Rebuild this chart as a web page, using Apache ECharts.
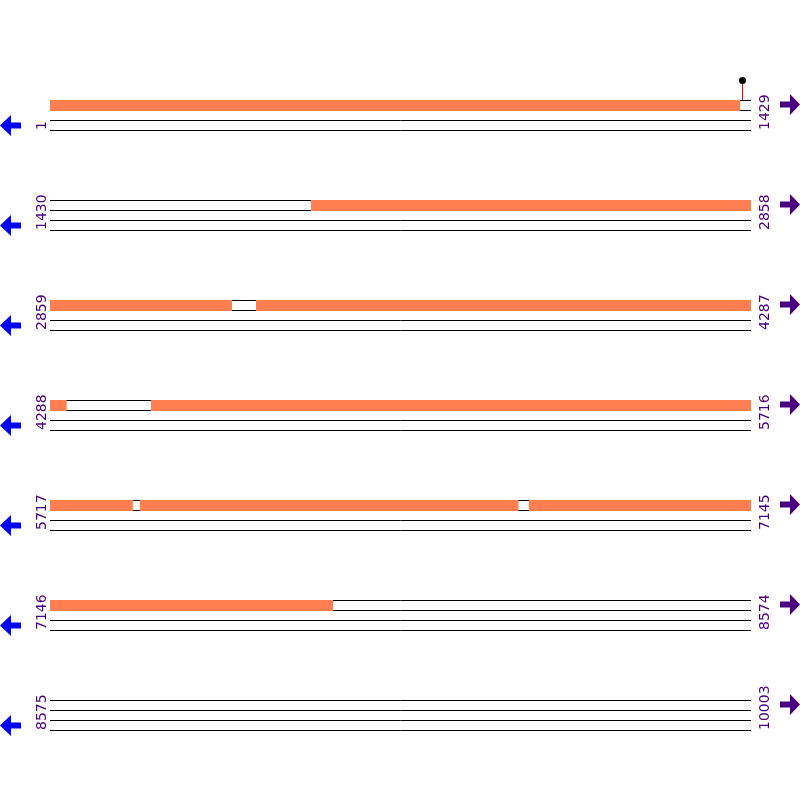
<!DOCTYPE html>
<html>
<head>
<meta charset="utf-8">
<script src="https://cdn.jsdelivr.net/npm/echarts@6/dist/echarts.min.js"></script>
<style>html,body{margin:0;padding:0;background:#fff}#c{width:800px;height:800px}</style>
</head>
<body>
<div id="c"></div>
<script>
// ---- data ----
var rowStarts = [1, 1430, 2859, 4288, 5717, 7146, 8575];
var rowEnds   = [1429, 2858, 4287, 5716, 7145, 8574, 10003];
var BASES_PER_ROW = 1429;
var featureStarts = [1, 1962, 3279, 4494, 5900, 6693];
var featureEnds   = [1407, 3229, 4321, 5885, 6671, 7722];
var markerPositions = [1411];

// ---- derived ----
var rowData = rowStarts.map(function (s, k) { return [0, k, s, rowEnds[k]]; });
var featData = [];
featureStarts.forEach(function (fs, i) {
  var fe = featureEnds[i];
  rowStarts.forEach(function (rs, k) {
    var a = Math.max(fs, rs), b = Math.min(fe, rowEnds[k]);
    if (a <= b) featData.push([a - rs, b - rs + 1, k]);
  });
});
var markData = [];
markerPositions.forEach(function (p) {
  rowStarts.forEach(function (rs, k) {
    if (p >= rs && p <= rowEnds[k]) markData.push([p - rs + 0.5, k]);
  });
});

var FONT = '14px "DejaVu Sans", sans-serif';
var LABEL = '#4B0082';

function renderTrack(params, api) {
  var k = api.value(1);
  var p0 = api.coord([0, k]);
  var p1 = api.coord([BASES_PER_ROW, k]);
  var y0 = Math.round(p0[1]);
  var ch = [];
  [0, 10, 20, 30].forEach(function (dy) {
    var y = y0 + dy + 0.5;
    ch.push({ type: 'line', shape: { x1: p0[0], y1: y, x2: p1[0], y2: y },
      style: { stroke: '#000', lineWidth: 1 } });
  });
  // labels
  ch.push({ type: 'text', x: p0[0] - 8, y: y0 + 30, rotation: Math.PI / 2,
    style: { text: String(api.value(2)), fill: LABEL, font: FONT, align: 'left', verticalAlign: 'middle' } });
  ch.push({ type: 'text', x: p1[0] + 14, y: y0 + 30, rotation: Math.PI / 2,
    style: { text: String(api.value(3)), fill: LABEL, font: FONT, align: 'left', verticalAlign: 'middle' } });
  // arrows
  var L = p0[0] - 50, cy = y0 + 25.5;
  ch.push({ type: 'polygon', shape: { points: [[L, cy], [L + 11, cy - 10.5], [L + 11, cy - 3], [L + 21, cy - 3], [L + 21, cy + 3], [L + 11, cy + 3], [L + 11, cy + 10.5]] },
    style: { fill: '#0000FF' } });
  var R = p1[0] + 49, cy2 = y0 + 4.5;
  ch.push({ type: 'polygon', shape: { points: [[R, cy2], [R - 10, cy2 - 10.5], [R - 10, cy2 - 3], [R - 20, cy2 - 3], [R - 20, cy2 + 3], [R - 10, cy2 + 3], [R - 10, cy2 + 10.5]] },
    style: { fill: LABEL } });
  return { type: 'group', children: ch };
}

function renderFeat(params, api) {
  var k = api.value(2);
  var a = api.coord([api.value(0), k]);
  var b = api.coord([api.value(1), k]);
  var y0 = Math.round(a[1]);
  return { type: 'rect', shape: { x: a[0], y: y0, width: b[0] - a[0], height: 11 },
    style: { fill: '#FF7F50' } };
}

function renderMark(params, api) {
  var k = api.value(1);
  var p = api.coord([api.value(0), k]);
  var x = Math.round(p[0]) + 0.5, y0 = Math.round(p[1]);
  return { type: 'group', children: [
    { type: 'line', shape: { x1: x, y1: y0, x2: x, y2: y0 - 19 }, style: { stroke: '#FF0000', lineWidth: 1 } },
    { type: 'circle', shape: { cx: x, cy: y0 - 19.5, r: 3.5 }, style: { fill: '#000' } }
  ] };
}

var chart = echarts.init(document.getElementById('c'), null, { renderer: 'canvas' });
chart.setOption({
  animation: false,
  backgroundColor: '#fff',
  grid: { left: 50, width: 701, top: 100, height: 600 },
  xAxis: { type: 'value', min: 0, max: BASES_PER_ROW, show: false },
  yAxis: { type: 'value', min: 0, max: 6, inverse: true, show: false },
  series: [
    { type: 'custom', renderItem: renderTrack, data: rowData, z: 1, clip: false },
    { type: 'custom', renderItem: renderFeat, data: featData, z: 2, clip: false },
    { type: 'custom', renderItem: renderMark, data: markData, z: 3, clip: false }
  ]
});
</script>
</body>
</html>
